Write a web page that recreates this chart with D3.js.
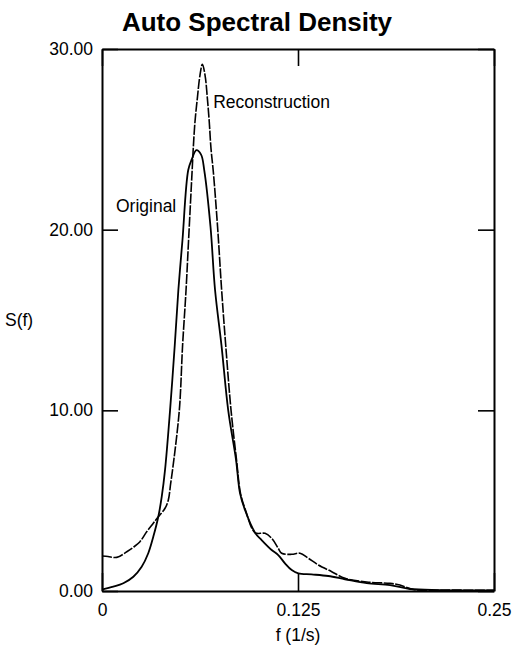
<!DOCTYPE html>
<html>
<head>
<meta charset="utf-8">
<script src="https://cdn.jsdelivr.net/npm/d3@7"></script>
<style>
    body { margin: 0; background: #fff; }
    text { font-family: "Liberation Sans", Arial, Helvetica, sans-serif; fill: #000; }
</style>
</head>
<body>
<svg id="chart" width="513" height="651"></svg>
<script>
// frequency (1/s) and spectral density
const freqOriginal = [0, 0.0072, 0.0136, 0.02, 0.0253, 0.0295, 0.0327, 0.0359, 0.0381, 0.0402,
    0.0434, 0.0464, 0.0487, 0.0513, 0.055, 0.0573, 0.0602, 0.0632, 0.0652, 0.0692,
    0.0721, 0.0762, 0.0805, 0.0855, 0.088, 0.0912, 0.0976, 0.1018, 0.1082, 0.1124,
    0.1167, 0.121, 0.1252, 0.1337, 0.1443, 0.155, 0.1688, 0.1837, 0.1964, 0.2156, 0.25];
const specOriginal = [0.08, 0.24, 0.43, 0.79, 1.34, 2.09, 3.0, 4.11, 5.22, 6.7,
    10.0, 13.6, 16.66, 19.4, 23.3, 23.9, 24.4, 24.15, 23.3, 20.16,
    16.66, 13.6, 10.0, 7.25, 5.42, 4.48, 3.23, 2.82, 2.27, 1.99,
    1.53, 1.16, 0.98, 0.92, 0.83, 0.65, 0.43, 0.33, 0.11, 0.05, 0.03];

const freqRecon = [0, 0.0038, 0.0094, 0.0158, 0.02, 0.0242, 0.0285, 0.0327, 0.0359, 0.0402,
    0.0423, 0.0438, 0.045, 0.0493, 0.0514, 0.0536, 0.0552, 0.0575, 0.0582, 0.0593,
    0.0608, 0.0625, 0.064, 0.0657, 0.0672, 0.0684, 0.0695, 0.071, 0.0737, 0.0763,
    0.0789, 0.0823, 0.0858, 0.0883, 0.0915, 0.0976, 0.104, 0.1082, 0.1124, 0.1146,
    0.121, 0.1263, 0.1316, 0.138, 0.1465, 0.155, 0.1688, 0.1837, 0.19, 0.1985, 0.222, 0.25];
const specRecon = [1.94, 1.91, 1.86, 2.17, 2.42, 2.73, 3.28, 3.75, 4.11, 4.58,
    5.04, 5.96, 6.7, 10.0, 13.6, 16.66, 19.4, 23.3, 24.5, 25.97,
    27.27, 28.56, 29.15, 28.56, 27.27, 25.97, 24.5, 23.2, 20.16, 16.66,
    13.6, 10.0, 7.25, 5.42, 4.48, 3.23, 3.19, 2.92, 2.36, 2.09,
    2.03, 2.09, 1.81, 1.44, 1.07, 0.7, 0.5, 0.42, 0.33, 0.08, 0.05, 0.04];

const xTicks = [0, 0.125, 0.25];
const yTicks = [0, 10, 20, 30];

const margin = {top: 49, right: 19, bottom: 60, left: 102};
const width = 513 - margin.left - margin.right;
const height = 651 - margin.top - margin.bottom;
const fontSize = 17.5;

let svg = d3.select("#chart");

svg.append("rect").attr("width", 513).attr("height", 651).attr("fill", "#fff");

let g = svg.append("g")
    .attr("transform", "translate(" + margin.left + "," + margin.top + ")");

let x = d3.scaleLinear().domain([0, 0.25]).range([0, width]);
let y = d3.scaleLinear().domain([0, 30]).range([height, 0]);

// axes, ticks pointing inward
let axisB = g.append("g")
    .attr("transform", "translate(0," + height + ")")
    .call(d3.axisBottom(x).tickValues(xTicks).tickSizeInner(-18).tickSizeOuter(0).tickPadding(12.5)
        .tickFormat(function(d) { return String(d); }));

let axisT = g.append("g")
    .call(d3.axisTop(x).tickValues(xTicks).tickSizeInner(-17).tickSizeOuter(0).tickFormat(""));

let axisL = g.append("g")
    .call(d3.axisLeft(y).tickValues(yTicks).tickSizeInner(-16).tickSizeOuter(0).tickPadding(9)
        .tickFormat(d3.format(".2f")));

let axisR = g.append("g")
    .attr("transform", "translate(" + width + ",0)")
    .call(d3.axisRight(y).tickValues(yTicks).tickSizeInner(-16).tickSizeOuter(0).tickFormat(""));

[axisB, axisT, axisL, axisR].forEach(function(axis) {
    axis.select(".domain").attr("stroke", "#000").attr("stroke-width", 2);
    axis.selectAll(".tick line").attr("stroke", "#000").attr("stroke-width", 1.6);
    axis.selectAll(".tick text")
        .attr("font-size", fontSize)
        .attr("font-family", "Liberation Sans, Arial, sans-serif")
        .attr("fill", "#000");
});

// curves
let line = d3.line()
    .x(function(d) { return x(d[0]); })
    .y(function(d) { return y(d[1]); })
    .curve(d3.curveCatmullRom.alpha(0.5));

let original = d3.zip(freqOriginal, specOriginal);
let recon = d3.zip(freqRecon, specRecon);

g.append("path")
    .datum(original)
    .attr("d", line)
    .attr("fill", "none")
    .attr("stroke", "#000")
    .attr("stroke-width", 1.8);

g.append("path")
    .datum(recon)
    .attr("d", line)
    .attr("fill", "none")
    .attr("stroke", "#000")
    .attr("stroke-width", 1.6)
    .attr("stroke-dasharray", "10,1.5");

// labels
g.append("text")
    .attr("x", x(0.0709))
    .attr("y", y(26.75))
    .attr("font-size", fontSize)
    .text("Reconstruction");

g.append("text")
    .attr("x", x(0.0089))
    .attr("y", y(20.99))
    .attr("font-size", fontSize)
    .text("Original");

svg.append("text")
    .attr("x", 257)
    .attr("y", 31)
    .attr("text-anchor", "middle")
    .attr("font-size", 26)
    .attr("font-weight", "bold")
    .text("Auto Spectral Density");

svg.append("text")
    .attr("x", margin.left + x(0.125))
    .attr("y", 641)
    .attr("text-anchor", "middle")
    .attr("font-size", fontSize)
    .text("f (1/s)");

svg.append("text")
    .attr("x", 5)
    .attr("y", 326)
    .attr("font-size", fontSize)
    .text("S(f)");
</script>
</body>
</html>
